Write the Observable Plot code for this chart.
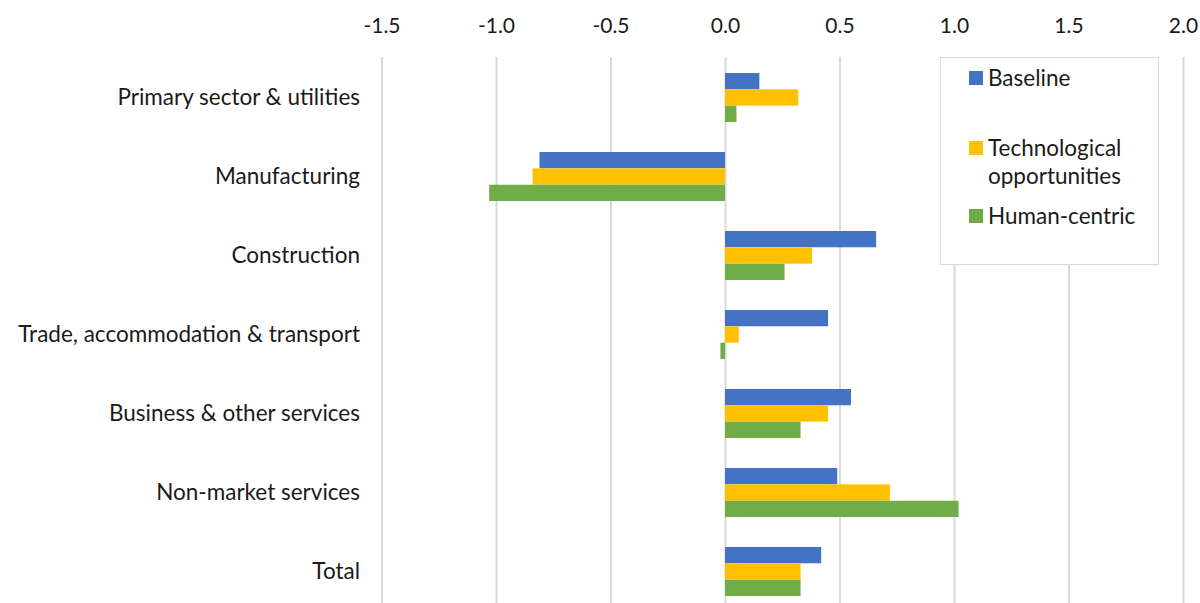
<!DOCTYPE html>
<html>
<head>
<meta charset="utf-8">
<script src="https://cdn.jsdelivr.net/npm/d3@7"></script>
<script src="https://cdn.jsdelivr.net/npm/@observablehq/plot@0.6"></script>
<style>
  html, body { margin: 0; padding: 0; overflow: hidden; background: #fff; }
  #wrap { position: relative; width: 1200px; height: 603px; overflow: hidden; }
  #legend {
    position: absolute; left: 940px; top: 57px; width: 217px; height: 206px;
    background: #fff; border: 1.5px solid #d9d9d9;
    font-family: Lato, "Open Sans", sans-serif; font-size: 22.5px; color: #1a1a1a;
  }
  .item { position: absolute; left: 28px; display: flex; align-items: flex-start; line-height: 28px; }
  .sw { width: 14px; height: 14px; margin-top: 7px; margin-right: 5px; flex: none; }
  #chart svg g[aria-label="x-axis tick label"] { font-size: 21px; }
</style>
</head>
<body>
<div id="wrap">
  <div id="chart"></div>
  <div id="legend"></div>
</div>
<script>
const categories = [
  "Primary sector & utilities",
  "Manufacturing",
  "Construction",
  "Trade, accommodation & transport",
  "Business & other services",
  "Non-market services",
  "Total"
];
const seriesNames = ["Baseline", "Technological opportunities", "Human-centric"];
const seriesColors = ["#4472C4", "#FFC000", "#70AD47"];
const baseline = [0.15, -0.81, 0.66, 0.45, 0.55, 0.49, 0.42];
const technological = [0.32, -0.84, 0.38, 0.06, 0.45, 0.72, 0.33];
const humanCentric = [0.05, -1.03, 0.26, -0.02, 0.33, 1.02, 0.33];
const xTicks = [-1.5, -1.0, -0.5, 0.0, 0.5, 1.0, 1.5, 2.0];

const seriesValues = [baseline, technological, humanCentric];
const rows = [];
seriesNames.forEach((s, i) => {
  categories.forEach((c, j) => rows.push({category: c, series: s, idx: i, value: seriesValues[i][j]}));
});

const bandwidth = 79.2 * 0.62;
const third = bandwidth / 3;
const font = 'Lato, "Open Sans", sans-serif';

const barMarks = seriesNames.map((s, i) =>
  Plot.barX(rows.filter(d => d.series === s), {
    x: "value", y: "category", fill: seriesColors[i],
    insetTop: third * i, insetBottom: third * (2 - i)
  })
);

const chart = Plot.plot({
  width: 1200,
  height: 612,
  marginTop: 57,
  marginBottom: 0,
  marginLeft: 381.5,
  marginRight: 17,
  style: {fontFamily: font, fontSize: "22.5px", color: "#1a1a1a", background: "#fff"},
  x: {domain: [-1.5, 2.0], ticks: xTicks, axis: "top", tickSize: 0, tickPadding: 25,
      tickFormat: d => d.toFixed(1), label: null},
  y: {domain: categories, paddingInner: 0.38, paddingOuter: 0.19, tickSize: 0, tickPadding: 22, label: null},
  marks: [
    Plot.ruleX(xTicks, {stroke: "#d9d9d9", strokeWidth: 2}),
    ...barMarks
  ]
});
document.getElementById("chart").appendChild(chart);

const legend = document.getElementById("legend");
const legendTops = [6, 76, 144];
seriesNames.forEach((s, i) => {
  const it = document.createElement("div");
  it.className = "item";
  it.style.top = legendTops[i] + "px";
  const sw = document.createElement("div");
  sw.className = "sw";
  sw.style.background = seriesColors[i];
  const tx = document.createElement("div");
  tx.innerHTML = i === 1 ? "Technological<br>opportunities" : s;
  it.appendChild(sw); it.appendChild(tx);
  legend.appendChild(it);
});
</script>
</body>
</html>
